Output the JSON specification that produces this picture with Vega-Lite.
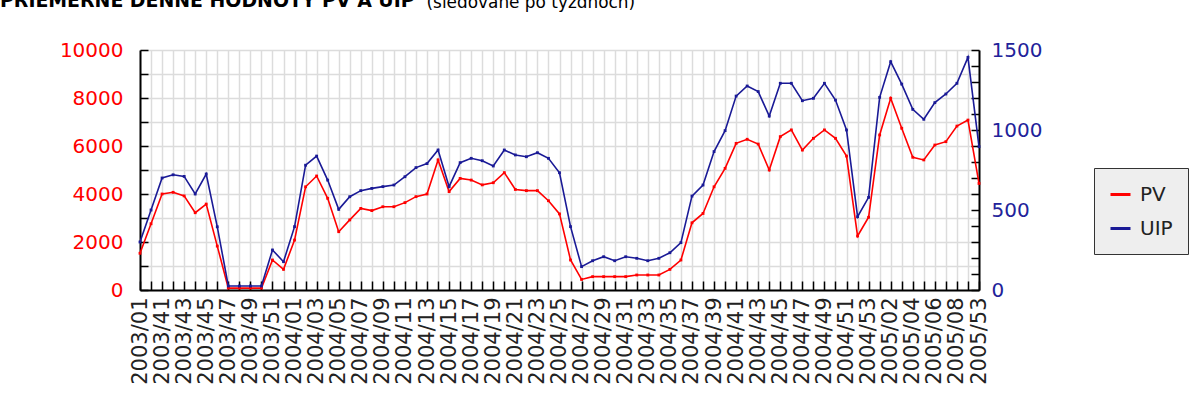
{
  "$schema": "https://vega.github.io/schema/vega-lite/v6.json",
  "autosize": {"type": "none"},
  "padding": {"left": 140, "top": 50, "right": 217, "bottom": 111},
  "width": 839,
  "height": 240,
  "background": "white",
  "title": {
    "text": "PRIEMERNÉ DENNÉ HODNOTY PV A UIP",
    "anchor": "start",
    "frame": "group",
    "dx": -140,
    "dy": 33,
    "offset": 0,
    "baseline": "alphabetic",
    "font": "DejaVu Sans",
    "fontSize": 18.9,
    "fontWeight": "bold",
    "color": "#000000"
  },
  "config": {
    "view": {"stroke": null},
    "axis": {"labelFont": "DejaVu Sans", "titleFont": "DejaVu Sans"},
    "legend": {"labelFont": "DejaVu Sans"}
  },
  "data": {
    "values": [
      {"week": "2003/01", "PV": 1530, "UIP": 300},
      {"week": "2003/40", "PV": 2760, "UIP": 500},
      {"week": "2003/41", "PV": 4000, "UIP": 700},
      {"week": "2003/42", "PV": 4070, "UIP": 720},
      {"week": "2003/43", "PV": 3920, "UIP": 710},
      {"week": "2003/44", "PV": 3220, "UIP": 600},
      {"week": "2003/45", "PV": 3580, "UIP": 725},
      {"week": "2003/46", "PV": 1830, "UIP": 395},
      {"week": "2003/47", "PV": 80, "UIP": 25},
      {"week": "2003/48", "PV": 80, "UIP": 25},
      {"week": "2003/49", "PV": 80, "UIP": 25},
      {"week": "2003/50", "PV": 80, "UIP": 25},
      {"week": "2003/51", "PV": 1250, "UIP": 250},
      {"week": "2003/52", "PV": 860, "UIP": 177},
      {"week": "2004/01", "PV": 2080, "UIP": 396},
      {"week": "2004/02", "PV": 4300, "UIP": 780},
      {"week": "2004/03", "PV": 4750, "UIP": 837},
      {"week": "2004/04", "PV": 3820, "UIP": 687},
      {"week": "2004/05", "PV": 2430, "UIP": 504},
      {"week": "2004/06", "PV": 2920, "UIP": 583},
      {"week": "2004/07", "PV": 3400, "UIP": 621},
      {"week": "2004/08", "PV": 3310, "UIP": 635},
      {"week": "2004/09", "PV": 3470, "UIP": 646},
      {"week": "2004/10", "PV": 3470, "UIP": 656},
      {"week": "2004/11", "PV": 3640, "UIP": 708},
      {"week": "2004/12", "PV": 3890, "UIP": 765},
      {"week": "2004/13", "PV": 4000, "UIP": 790},
      {"week": "2004/14", "PV": 5420, "UIP": 875},
      {"week": "2004/15", "PV": 4100, "UIP": 646},
      {"week": "2004/16", "PV": 4650, "UIP": 796},
      {"week": "2004/17", "PV": 4580, "UIP": 823},
      {"week": "2004/18", "PV": 4380, "UIP": 808},
      {"week": "2004/19", "PV": 4470, "UIP": 775},
      {"week": "2004/20", "PV": 4890, "UIP": 875},
      {"week": "2004/21", "PV": 4190, "UIP": 844},
      {"week": "2004/22", "PV": 4140, "UIP": 833},
      {"week": "2004/23", "PV": 4140, "UIP": 858},
      {"week": "2004/24", "PV": 3720, "UIP": 823},
      {"week": "2004/25", "PV": 3170, "UIP": 733},
      {"week": "2004/26", "PV": 1250, "UIP": 396},
      {"week": "2004/27", "PV": 440, "UIP": 146},
      {"week": "2004/28", "PV": 556, "UIP": 183},
      {"week": "2004/29", "PV": 556, "UIP": 208},
      {"week": "2004/30", "PV": 556, "UIP": 183},
      {"week": "2004/31", "PV": 556, "UIP": 208},
      {"week": "2004/32", "PV": 625, "UIP": 198},
      {"week": "2004/33", "PV": 625, "UIP": 183},
      {"week": "2004/34", "PV": 625, "UIP": 198},
      {"week": "2004/35", "PV": 860, "UIP": 233},
      {"week": "2004/36", "PV": 1250, "UIP": 296},
      {"week": "2004/37", "PV": 2800, "UIP": 587},
      {"week": "2004/38", "PV": 3190, "UIP": 656},
      {"week": "2004/39", "PV": 4300, "UIP": 865},
      {"week": "2004/40", "PV": 5070, "UIP": 996},
      {"week": "2004/41", "PV": 6110, "UIP": 1212},
      {"week": "2004/42", "PV": 6280, "UIP": 1275},
      {"week": "2004/43", "PV": 6080, "UIP": 1240},
      {"week": "2004/44", "PV": 5000, "UIP": 1087},
      {"week": "2004/45", "PV": 6390, "UIP": 1292},
      {"week": "2004/46", "PV": 6670, "UIP": 1292},
      {"week": "2004/47", "PV": 5830, "UIP": 1183},
      {"week": "2004/48", "PV": 6320, "UIP": 1198},
      {"week": "2004/49", "PV": 6670, "UIP": 1292},
      {"week": "2004/50", "PV": 6320, "UIP": 1187},
      {"week": "2004/51", "PV": 5580, "UIP": 1000},
      {"week": "2004/52", "PV": 2250, "UIP": 458},
      {"week": "2004/53", "PV": 3030, "UIP": 579},
      {"week": "2005/01", "PV": 6460, "UIP": 1204},
      {"week": "2005/02", "PV": 7990, "UIP": 1427},
      {"week": "2005/03", "PV": 6740, "UIP": 1287},
      {"week": "2005/04", "PV": 5530, "UIP": 1129},
      {"week": "2005/05", "PV": 5420, "UIP": 1067},
      {"week": "2005/06", "PV": 6040, "UIP": 1171},
      {"week": "2005/07", "PV": 6180, "UIP": 1225},
      {"week": "2005/08", "PV": 6830, "UIP": 1292},
      {"week": "2005/09", "PV": 7080, "UIP": 1454},
      {"week": "2005/53", "PV": 4440, "UIP": 896}
    ]
  },
  "encoding": {
    "x": {
      "field": "week",
      "type": "ordinal",
      "scale": {"type": "point", "padding": 0},
      "axis": {
        "title": "(sledované po týždňoch)",
        "titleX": 286,
        "titleY": -283,
        "titleAlign": "left",
        "titleBaseline": "alphabetic",
        "titleAngle": 0,
        "titleFontSize": 16.9,
        "titleFontWeight": "normal",
        "titleColor": "#000000",
        "labelAngle": -90,
        "labelFontSize": 21,
        "labelColor": "#222222",
        "labelPadding": 16,
        "labelOverlap": false,
        "labelExpr": "(substring(datum.value,0,4)=='2005' ? (toNumber(substring(datum.value,5)) % 2 == 0 || datum.value=='2005/53') : (toNumber(substring(datum.value,5)) % 2 == 1)) ? datum.value : ''",
        "grid": true,
        "gridColor": "#dcdcdc",
        "gridWidth": 1.5,
        "domainColor": "#000000",
        "domainWidth": 2,
        "tickColor": "#000000",
        "tickWidth": 1.5,
        "tickSize": -9
      }
    }
  },
  "layer": [
    {
      "encoding": {
        "y": {
          "field": "PV",
          "type": "quantitative",
          "scale": {"domain": [0, 10000], "nice": false},
          "axis": {
            "orient": "left",
            "title": null,
            "values": [0, 1000, 2000, 3000, 4000, 5000, 6000, 7000, 8000, 9000, 10000],
            "labelExpr": "datum.value % 2000 == 0 ? format(datum.value, 'd') : ''",
            "labelColor": "#ff0000",
            "labelFontSize": 20,
            "labelPadding": 25,
            "grid": true,
            "gridColor": "#dcdcdc",
            "gridWidth": 1.5,
            "domainColor": "#000000",
            "domainWidth": 2,
            "tickColor": "#000000",
            "tickWidth": 1.5,
            "tickSize": -8
          }
        }
      },
      "layer": [
        {
          "mark": {"type": "line", "strokeWidth": 1.6},
          "encoding": {
            "color": {
              "datum": "PV",
              "type": "nominal",
              "scale": {"domain": ["PV", "UIP"], "range": ["#ff0000", "#1a1a96"]},
              "legend": {
                "title": null,
                "orient": "none",
                "legendX": 954,
                "legendY": 118,
                "fillColor": "#eeeeee",
                "strokeColor": "#333333",
                "padding": 15,
                "rowPadding": 12,
                "labelFontSize": 20,
                "labelColor": "#222222",
                "labelOffset": 8,
                "symbolType": "stroke",
                "symbolSize": 400,
                "symbolStrokeWidth": 3
              }
            }
          }
        },
        {
          "mark": {"type": "point", "shape": "square", "size": 8, "filled": true, "color": "#ff0000", "opacity": 1}
        }
      ]
    },
    {
      "encoding": {
        "y": {
          "field": "UIP",
          "type": "quantitative",
          "scale": {"domain": [0, 1500], "nice": false},
          "axis": {
            "orient": "right",
            "title": null,
            "values": [0, 100, 200, 300, 400, 500, 600, 700, 800, 900, 1000, 1100, 1200, 1300, 1400, 1500],
            "labelExpr": "datum.value % 500 == 0 ? format(datum.value, 'd') : ''",
            "labelColor": "#22229a",
            "labelFontSize": 20,
            "labelPadding": 20,
            "grid": false,
            "domainColor": "#000000",
            "domainWidth": 2,
            "tickColor": "#000000",
            "tickWidth": 1.5,
            "tickSize": -8
          }
        }
      },
      "layer": [
        {
          "mark": {"type": "line", "strokeWidth": 1.6},
          "encoding": {"color": {"datum": "UIP", "type": "nominal"}}
        },
        {
          "mark": {"type": "point", "shape": "square", "size": 8, "filled": true, "color": "#1a1a96", "opacity": 1}
        }
      ]
    }
  ],
  "resolve": {"scale": {"y": "independent"}}
}
